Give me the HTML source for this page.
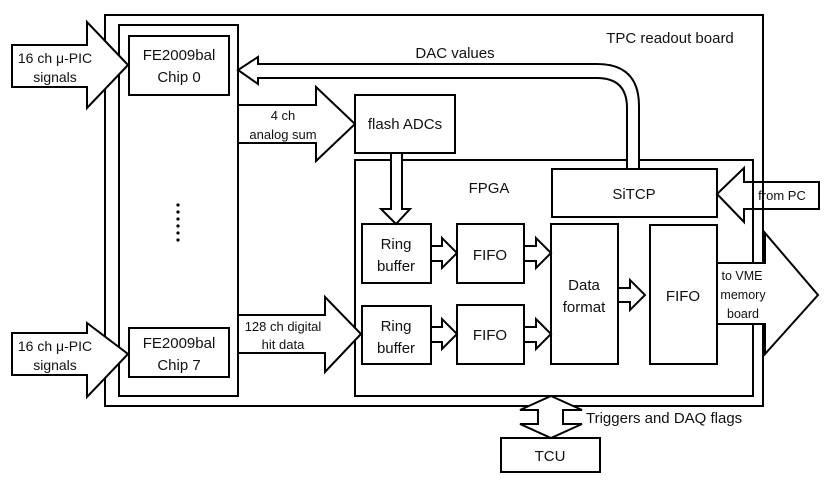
<!DOCTYPE html>
<html><head><meta charset="utf-8"><style>
html,body{margin:0;padding:0;background:#fff;}
svg{display:block;}
text{font-family:"Liberation Sans",sans-serif;fill:#111;}
</style></head><body>
<svg width="830" height="483" viewBox="0 0 830 483" xmlns="http://www.w3.org/2000/svg">
<g fill="#fff" stroke="#000" stroke-width="2">
<rect x="105" y="15" width="658" height="391"/>
<rect x="119" y="25" width="119" height="371"/>
<rect x="129" y="36" width="100" height="59"/>
<rect x="129" y="328" width="100" height="49"/>
<rect x="355" y="160" width="398" height="236"/>
<rect x="355" y="95" width="100" height="58"/>
<rect x="552" y="169" width="165" height="48"/>
<rect x="362" y="224" width="69" height="59"/>
<rect x="457" y="224" width="67" height="59"/>
<rect x="362" y="306" width="69" height="58"/>
<rect x="457" y="305" width="67" height="59"/>
<rect x="551" y="224" width="67" height="140"/>
<rect x="650" y="225" width="67" height="139"/>
<rect x="501" y="438" width="99" height="34"/>
<polygon points="12,45 87,45 87,22 128,65 87,108 87,87 12,87"/>
<polygon points="12,333 87,333 87,323 128,354 87,397 87,375 12,375"/>
<polygon points="238,105 316,105 316,87 355,124 316,161 316,143 238,143"/>
<polygon points="238,315 325,315 325,297 361,334 325,372 325,353 238,353"/>
<polygon points="391,153 402,153 402,209 410,209 396,224 381,209 391,209"/>
<polygon points="431,246 442,246 442,238 457,253 442,268 442,261 431,261"/>
<polygon points="431,327 442,327 442,319 457,334 442,349 442,342 431,342"/>
<polygon points="524,246 536,246 536,238 551,253 536,268 536,261 524,261"/>
<polygon points="524,327 536,327 536,319 551,334 536,349 536,342 524,342"/>
<polygon points="618,288 630,288 630,280 645,295 630,310 630,302 618,302"/>
<polygon points="819,182 744,182 744,168 717,194 744,222 744,209 819,209"/>
<polygon points="717,263 765,263 765,233 818,295 765,354 765,324 717,324"/>
<path d="M627,169 L627,108 Q627,78 597,78 L258,78 L258,84 L238,70 L258,57 L258,64 L597,64 Q639,64 639,106 L639,169 Z"/>
<polygon points="551,396 582,410 563,410 563,424 582,424 551,438 520,424 538,424 538,410 520,410"/>
</g>
<g stroke="#000" stroke-width="2">
<line x1="753" y1="160" x2="753" y2="263"/><line x1="763" y1="15" x2="763" y2="263"/>
<line x1="753" y1="324" x2="753" y2="396"/><line x1="763" y1="324" x2="763" y2="406"/>
</g>
<g fill="#000">
<circle cx="178" cy="205" r="1.6"/><circle cx="178" cy="212" r="1.6"/><circle cx="178" cy="219" r="1.6"/><circle cx="178" cy="226" r="1.6"/><circle cx="178" cy="233" r="1.6"/><circle cx="178" cy="240" r="1.6"/>
</g>
<g font-size="14" text-anchor="middle">
<text x="55" y="63">16 ch μ-PIC</text><text x="55" y="82">signals</text>
<text x="55" y="351">16 ch μ-PIC</text><text x="55" y="370">signals</text>
<text x="179" y="60" font-size="15">FE2009bal</text><text x="179" y="82" font-size="15">Chip 0</text>
<text x="179" y="348" font-size="15">FE2009bal</text><text x="179" y="370" font-size="15">Chip 7</text>
<text x="283" y="120" font-size="13">4 ch</text><text x="283" y="139" font-size="13">analog sum</text>
<text x="283" y="331" font-size="13">128 ch digital</text><text x="283" y="349" font-size="13">hit data</text>
<text x="405" y="129" font-size="15">flash ADCs</text>
<text x="455" y="58" font-size="15">DAC values</text>
<text x="670" y="43" font-size="15">TPC readout board</text>
<text x="489" y="193" font-size="15">FPGA</text>
<text x="634" y="199" font-size="15">SiTCP</text>
<text x="782" y="200" font-size="13">from PC</text>
<text x="396" y="249" font-size="15">Ring</text><text x="396" y="271" font-size="15">buffer</text>
<text x="396" y="331" font-size="15">Ring</text><text x="396" y="353" font-size="15">buffer</text>
<text x="490" y="260" font-size="15">FIFO</text><text x="490" y="340" font-size="15">FIFO</text>
<text x="584" y="290" font-size="15">Data</text><text x="584" y="312" font-size="15">format</text>
<text x="683" y="301" font-size="15">FIFO</text>
<text x="742" y="280" font-size="12.5">to VME</text><text x="743" y="299" font-size="12.5">memory</text><text x="743" y="318" font-size="12.5">board</text>
<text x="550" y="461" font-size="15">TCU</text>
<text x="586" y="423" font-size="15" text-anchor="start">Triggers and DAQ flags</text>
</g>
</svg>
</body></html>
